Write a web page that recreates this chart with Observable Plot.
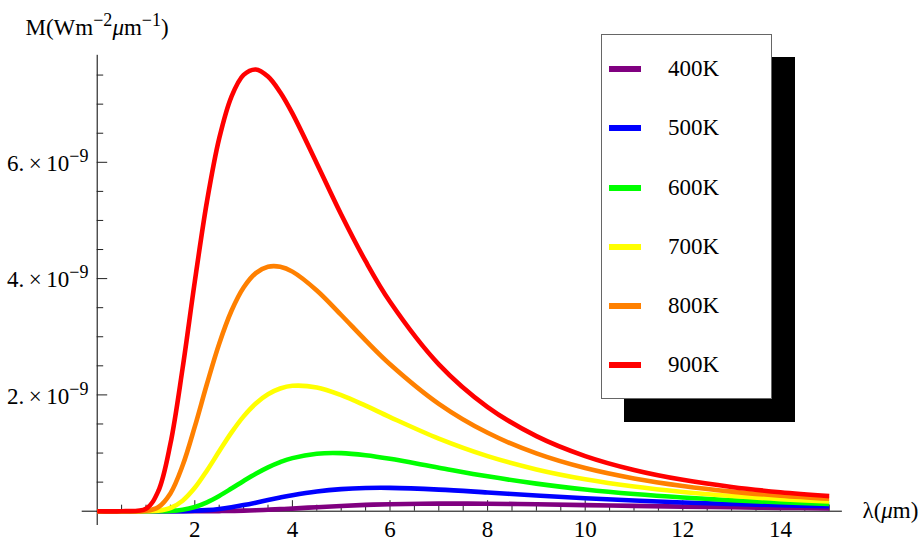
<!DOCTYPE html>
<html>
<head>
<meta charset="utf-8">
<script src="https://cdn.jsdelivr.net/npm/d3@7"></script>
<script src="https://cdn.jsdelivr.net/npm/@observablehq/plot@0.6"></script>
<style>
  html, body { margin: 0; padding: 0; background: #fff; }
  #wrap { position: relative; width: 920px; height: 541px; font-family: "Liberation Serif", "Times New Roman", serif; }
  #legend { position: absolute; left: 601px; top: 34px; width: 171px; height: 365px; box-sizing: border-box;
            border: 1px solid #666; background: #fff; box-shadow: 23px 23px 0 #000; }
  .row { position: absolute; left: 0; height: 30px; }
  .sw { position: absolute; left: 7px; width: 32px; height: 6px; }
  .lab { position: absolute; left: 66px; font-size: 23px; line-height: 30px; color: #000; white-space: nowrap; }
</style>
</head>
<body>
<div id="wrap"><div id="chart"></div><div id="legend"></div></div>
<script>
// wavelength (µm)
const lambda = [0, 0.5, 1, 1.25, 1.5, 1.75, 2, 2.25, 2.5, 2.75, 3, 3.25, 3.5, 3.75, 4, 4.5, 5, 5.5, 6, 7, 8, 9, 10, 11, 12, 13, 14, 15];
// spectral exitance, in units of 1e-9
const m400 = [0, 0, 0, 0, 0, 0, 0, 0.001, 0.002, 0.005, 0.010, 0.016, 0.025, 0.035, 0.045, 0.069, 0.090, 0.108, 0.120, 0.131, 0.129, 0.119, 0.105, 0.092, 0.079, 0.068, 0.058, 0.049];
const m500 = [0, 0, 0, 0, 0, 0.002, 0.007, 0.018, 0.038, 0.068, 0.105, 0.147, 0.192, 0.235, 0.275, 0.339, 0.380, 0.399, 0.401, 0.371, 0.322, 0.270, 0.223, 0.183, 0.150, 0.124, 0.102, 0.085];
const m600 = [0, 0, 0, 0.001, 0.006, 0.026, 0.073, 0.153, 0.262, 0.389, 0.520, 0.645, 0.755, 0.844, 0.913, 0.988, 0.998, 0.962, 0.901, 0.749, 0.600, 0.474, 0.374, 0.296, 0.236, 0.189, 0.153, 0.125];
const m700 = [0, 0, 0, 0.009, 0.055, 0.181, 0.402, 0.700, 1.030, 1.351, 1.631, 1.853, 2.011, 2.110, 2.156, 2.128, 1.996, 1.814, 1.618, 1.248, 0.947, 0.719, 0.550, 0.424, 0.331, 0.261, 0.208, 0.168];
const m800 = [0, 0, 0.006, 0.069, 0.306, 0.785, 1.454, 2.192, 2.880, 3.442, 3.846, 4.094, 4.204, 4.204, 4.120, 3.796, 3.374, 2.938, 2.528, 1.847, 1.348, 0.994, 0.742, 0.563, 0.433, 0.337, 0.266, 0.213];
const m900 = [0, 0, 0.043, 0.342, 1.159, 2.458, 3.950, 5.330, 6.411, 7.127, 7.503, 7.596, 7.474, 7.204, 6.840, 5.980, 5.102, 4.299, 3.602, 2.526, 1.791, 1.291, 0.948, 0.709, 0.539, 0.416, 0.326, 0.259];

const temps = ["400K", "500K", "600K", "700K", "800K", "900K"];
const colors = ["#800080", "#0000ff", "#00ff00", "#ffff00", "#ff8000", "#ff0000"];
const seriesValues = [m400, m500, m600, m700, m800, m900];

const xTicksMajor = [2, 4, 6, 8, 10, 12, 14];
const xTickLabels = ["2", "4", "6", "8", "10", "12", "14"];
const xTicksMinor = d3.range(1, 31).map(i => i / 2).filter(v => !xTicksMajor.includes(v));
const yTicksMajor = [2, 4, 6];
const yTickLabels = ["2.\u2009×\u200910⁻⁹", "4.\u2009×\u200910⁻⁹", "6.\u2009×\u200910⁻⁹"];
const yTicksMinor = d3.range(1, 16).map(i => i / 2).filter(v => !yTicksMajor.includes(v));
const yTitle = "M(Wm⁻²μm⁻¹)";
const xTitle = "λ(μm)";

const rows = temps.flatMap((T, k) => lambda.map((x, i) => ({x, y: seriesValues[k][i], T})));

const X0 = 96.7, PXX = 48.8, Y0 = 510.7, PXY = 58.15;
const tickColor = "#222";

const chart = Plot.plot({
  width: 920, height: 541,
  marginLeft: 0, marginRight: 0, marginTop: 0, marginBottom: 0,
  style: {fontFamily: "'Liberation Serif', 'Times New Roman', serif", fontSize: "23px", background: "white", overflow: "visible"},
  x: {domain: [0, 15], range: [X0, X0 + 15 * PXX], axis: null},
  y: {domain: [0, 7.5], range: [Y0, Y0 - 7.5 * PXY], axis: null},
  color: {domain: temps, range: colors},
  marks: [
    // axes
    Plot.ruleY([0], {x1: -0.307, x2: 15.27, stroke: "#000", strokeWidth: 1}),
    Plot.ruleX([0], {y1: -0.246, y2: 7.84, stroke: "#000", strokeWidth: 1}),
    Plot.ruleX(xTicksMinor, {x: d => d, y1: 0, y2: 6 / PXY, stroke: tickColor, strokeWidth: 1}),
    Plot.ruleX(xTicksMajor, {x: d => d, y1: 0, y2: 10.5 / PXY, stroke: tickColor, strokeWidth: 1}),
    Plot.ruleY(yTicksMinor, {y: d => d, x1: 0, x2: 6.5 / PXX, stroke: tickColor, strokeWidth: 1}),
    Plot.ruleY(yTicksMajor, {y: d => d, x1: 0, x2: 10.5 / PXX, stroke: tickColor, strokeWidth: 1}),
    Plot.text(xTicksMajor, {x: d => d, y: 0, text: (d, i) => xTickLabels[i], dy: 25.3, lineAnchor: "bottom", textAnchor: "middle", fill: "#000"}),
    Plot.text(yTicksMajor, {x: 0, y: d => d, text: (d, i) => yTickLabels[i], dx: -8.7, dy: 8.7, lineAnchor: "bottom", textAnchor: "end", fill: "#000"}),
    Plot.text([yTitle], {frameAnchor: "top-left", dx: 25, dy: 34, lineAnchor: "bottom", textAnchor: "start", fill: "#000"}),
    Plot.text([xTitle], {frameAnchor: "top-left", dx: 862, dy: 517, lineAnchor: "bottom", textAnchor: "start", fill: "#000"}),
    // curves
    Plot.line(rows, {x: "x", y: "y", z: "T", stroke: "T", strokeWidth: 4.6, curve: "catmull-rom", strokeLinecap: "butt", strokeLinejoin: "round"})
  ]
});
document.getElementById("chart").appendChild(chart);

// superscript runs -> raised tspans; μ -> italic
const supMap = {"⁻": "−", "⁰": "0", "¹": "1", "²": "2", "³": "3", "⁴": "4", "⁵": "5", "⁶": "6", "⁷": "7", "⁸": "8", "⁹": "9"};
d3.select(chart).selectAll("text").each(function () {
  const s = this.textContent;
  if (!/[⁻⁰¹²³⁴⁵⁶⁷⁸⁹μ]/.test(s)) return;
  const runs = [];
  for (const ch of s) {
    const kind = ch in supMap ? "sup" : ch === "μ" ? "it" : "n";
    const c = ch in supMap ? supMap[ch] : ch;
    if (runs.length && runs[runs.length - 1].kind === kind) runs[runs.length - 1].t += c;
    else runs.push({kind, t: c});
  }
  this.textContent = "";
  let raised = false;
  for (const r of runs) {
    const ts = d3.select(this).append("tspan").text(r.t);
    if (r.kind === "sup") { ts.attr("font-size", "18px").attr("dy", raised ? 0 : -9); raised = true; }
    else {
      if (raised) ts.attr("dy", 9);
      raised = false;
      if (r.kind === "it") ts.attr("font-style", "italic");
    }
  }
});

// legend
const legend = document.getElementById("legend");
const centers = [69, 128.3, 187.6, 246.8, 306, 365.2];
temps.forEach((T, i) => {
  const row = document.createElement("div");
  row.className = "row";
  row.style.top = (centers[i] - 34 - 1 - 15) + "px";
  row.style.width = "100%";
  const sw = document.createElement("div");
  sw.className = "sw";
  sw.style.background = colors[i];
  sw.style.top = "12px";
  const lab = document.createElement("div");
  lab.className = "lab";
  lab.style.top = "0px";
  lab.textContent = T;
  row.appendChild(sw); row.appendChild(lab);
  legend.appendChild(row);
});
</script>
</body>
</html>
